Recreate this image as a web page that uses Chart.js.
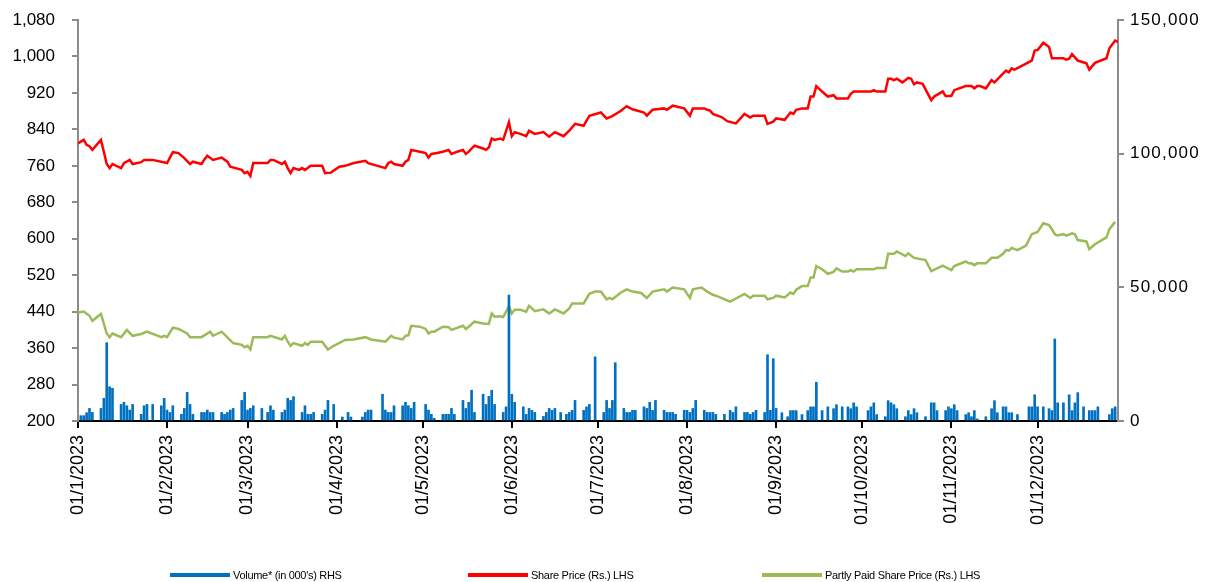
<!DOCTYPE html>
<html><head><meta charset="utf-8">
<script src="https://cdn.jsdelivr.net/npm/chart.js@4.4.0/dist/chart.umd.min.js"></script>
<style>
html,body{margin:0;padding:0;background:#fff;}
#wrap{position:relative;width:1206px;height:582px;overflow:hidden;}
#legend{position:absolute;left:0;top:568px;width:1206px;height:14px;font:11px "Liberation Sans",Arial,sans-serif;color:#000;}
.item{position:absolute;top:0;height:14px;display:flex;align-items:center;white-space:nowrap;letter-spacing:-0.3px;}
.sw{display:inline-block;width:60px;height:4px;margin-right:3px;}
</style></head><body>
<div id="wrap"><canvas id="c" width="1206" height="582"></canvas><div id="legend"></div></div>
<script>
// ---- Data (x = days since 01/1/2023) ----
const monthTickDays = [0,31,59,90,120,151,181,212,243,273,304,334];
const monthTickLabels = ['01/1/2023','01/2/2023','01/3/2023','01/4/2023','01/5/2023','01/6/2023','01/7/2023','01/8/2023','01/9/2023','01/10/2023','01/11/2023','01/12/2023'];
const leftTicks = [200,280,360,440,520,600,680,760,840,920,1000,1080];
const rightTicks = [0,50000,100000,150000];
const seriesNames = ["Volume* (in 000's) RHS", "Share Price (Rs.) LHS", "Partly Paid Share Price (Rs.) LHS"];

const priceDays = [0,2,3,4,5,8,10,11,12,15,16,18,19,22,23,26,31,33,35,37,39,40,43,44,45,47,50,52,53,57,58,59,60,61,66,67,68,71,72,73,74,75,77,78,79,81,85,86,88,91,93,96,100,101,107,108,109,110,113,114,115,116,119,121,122,123,125,127,129,130,132,134,135,136,137,138,141,142,143,144,145,147,148,150,151,152,154,156,157,159,162,164,166,169,171,173,176,178,182,184,186,189,191,193,197,198,200,204,205,207,211,213,214,218,219,220,221,224,226,229,232,234,235,239,240,242,243,246,248,249,250,252,254,255,256,257,259,261,263,264,268,269,270,276,277,278,281,282,283,284,285,287,289,290,291,292,294,297,298,301,302,304,305,309,311,312,313,314,316,318,319,323,324,325,326,329,332,333,334,336,338,339,343,344,345,346,348,351,352,354,358,359,361,362];
const priceValues = [809,817,806,803,795,817,764,755,764,755,766,773,764,768,773,773,766,790,788,777,764,769,764,774,782,773,778,769,758,751,744,747,738,766,766,773,773,764,769,755,744,755,751,755,751,760,760,744,745,758,760,766,771,766,755,766,769,764,760,769,773,795,791,788,778,786,788,791,795,786,791,795,786,791,798,804,798,795,800,820,817,820,817,856,825,834,830,825,837,830,834,824,834,825,837,852,848,870,877,864,869,881,891,884,877,870,883,886,883,892,886,870,886,886,883,881,874,867,858,853,874,866,870,870,852,857,864,861,877,874,883,886,886,912,912,935,923,912,915,908,908,918,923,923,926,923,923,951,951,948,951,943,953,951,939,943,940,904,912,923,913,913,926,935,935,930,935,935,930,948,943,969,965,974,971,981,991,1013,1014,1030,1021,996,996,993,995,1005,991,985,971,986,996,1018,1035,1032];

const partlyDays = [0,2,4,5,8,10,11,12,15,17,19,22,24,29,30,31,33,35,38,39,43,46,47,50,54,57,58,59,60,61,66,67,71,72,73,74,75,78,79,80,81,85,87,89,93,96,100,102,107,109,110,113,114,115,116,119,121,122,123,124,127,129,130,134,135,136,138,141,143,144,145,147,148,150,151,152,154,156,157,159,162,164,166,169,171,172,176,178,180,182,184,185,186,189,191,193,196,198,200,204,205,207,211,213,214,217,219,221,222,227,232,234,235,239,240,242,243,246,248,249,250,252,254,255,256,257,259,261,263,264,266,268,269,270,271,277,278,281,282,284,285,288,289,291,295,297,299,301,304,305,309,310,311,312,313,316,318,320,322,323,324,325,327,330,332,334,336,338,339,340,341,343,344,346,347,348,351,352,354,358,359,361];
const partlyValues = [438,440,431,420,435,392,384,392,384,400,387,391,396,384,387,384,405,402,392,384,384,396,387,396,371,367,362,365,357,384,384,387,379,387,374,365,371,365,371,367,374,374,357,365,378,379,384,379,374,387,383,379,387,388,409,407,402,392,396,396,407,406,400,409,402,407,418,414,413,436,429,430,428,452,436,444,444,440,453,441,445,436,445,436,447,458,458,479,484,484,467,470,467,482,489,484,481,470,484,489,484,493,489,470,489,493,484,477,475,462,479,470,475,475,467,470,475,471,482,479,488,496,496,515,515,540,533,523,527,535,528,528,531,528,533,533,536,536,567,567,572,562,568,558,553,529,535,541,531,540,550,546,546,542,546,546,558,558,567,575,574,580,575,585,610,615,634,630,621,610,607,610,607,612,610,597,594,577,588,603,621,637];

const volumeDays = [1,2,3,4,5,8,9,10,11,12,15,16,17,18,19,22,23,24,26,29,30,31,32,33,36,37,38,39,40,43,44,45,46,47,50,51,52,53,54,57,58,59,60,61,64,66,67,68,71,72,73,74,75,78,79,80,81,82,85,86,87,89,92,94,95,99,100,101,102,106,107,108,109,110,113,114,115,116,117,121,122,123,124,127,128,129,130,131,134,135,136,137,138,141,142,143,144,145,148,149,150,151,152,155,156,157,158,159,162,163,164,165,166,168,170,171,172,173,176,177,178,180,183,184,185,186,187,190,191,192,193,194,197,198,199,200,201,204,205,206,207,208,211,212,213,214,215,218,219,220,221,222,225,227,228,229,232,233,234,235,236,239,240,241,242,243,245,247,248,249,250,252,254,255,256,257,259,261,263,264,266,268,269,270,271,275,276,277,278,281,282,283,284,285,288,289,290,291,292,295,297,298,299,302,303,304,305,306,309,310,311,312,313,316,318,319,320,322,323,324,325,327,331,332,333,334,336,338,339,340,341,343,345,346,347,348,350,352,353,354,355,359,360,361];
const volumeValues = [2000,2000,3100,4700,3200,4700,8500,29300,12800,12200,6200,7000,5700,4100,6200,2500,5700,6200,6200,5700,8500,4100,3200,5700,2500,4700,10700,6200,2500,3200,3200,4100,3200,3200,3200,2500,3200,4100,4700,7700,10700,4100,4700,5700,4700,3200,5700,4100,3200,4100,8500,7700,9100,3200,5700,2500,2500,3200,2500,4100,7700,6200,1500,3200,1500,1500,3200,4100,4100,10000,4100,3200,3200,5700,5700,7000,5700,4700,7000,6200,4100,2500,1000,2500,2500,2500,4700,2500,7700,4700,7000,11500,3200,10000,6200,9200,11500,6200,3200,5300,47100,10000,7000,5300,2500,4700,4000,3200,1700,3200,4700,4000,4700,3200,2500,3200,4000,7700,4000,5300,6200,24000,3200,7700,4700,7700,21800,4700,3200,3200,4000,4000,5300,4700,7000,4000,7700,4000,3200,3200,3200,2500,4000,4000,3200,4700,7700,4000,3200,3200,3200,2500,2500,4000,3200,5300,3200,3200,2500,3200,4000,3200,24800,4000,23300,4700,3100,1600,3900,3900,3900,2400,3900,5300,5300,14500,3900,5300,4600,6100,5300,5300,4600,6800,5300,3900,5300,6800,2400,1600,7600,6800,6100,4600,1600,3900,2400,4600,3100,1600,6800,6800,3900,3900,5300,4600,6100,3900,2400,3100,1600,3900,800,1600,4600,7600,3100,5300,5300,3100,3100,2400,5300,5300,9800,5300,5300,4600,3900,30700,6800,6800,9800,3900,6800,10600,5300,3900,3900,3900,5300,2400,4600,5300];

// ---- Styles ----
const FONT = '"Liberation Sans", Arial, sans-serif';
const colors = ['#0070C0', '#FF0000', '#9BBB59'];
const legendLeft = [170, 468, 762];

const toPts = (xs, ys) => xs.map((x, i) => ({x: x, y: ys[i]}));
const fitY = w => s => { s.width = w; s.paddingTop = 0; s.paddingBottom = 0; };
// widen letter spacing of a scale's tick labels
const spaced = px => s => {
  if (s._spacedWrapped) return;
  const orig = s.drawLabels;
  s.drawLabels = function (area) {
    const ctx = this.ctx; ctx.save();
    if ('letterSpacing' in ctx) ctx.letterSpacing = px;
    orig.call(this, area); ctx.restore();
  };
  s._spacedWrapped = true;
};

new Chart(document.getElementById('c'), {
  type: 'bar',
  data: {
    datasets: [
      {type: 'bar', label: seriesNames[0], data: toPts(volumeDays, volumeValues), yAxisID: 'y1',
       backgroundColor: colors[0], borderWidth: 0, barThickness: 2, order: 0},
      {type: 'line', label: seriesNames[1], data: toPts(priceDays, priceValues), yAxisID: 'y',
       borderColor: colors[1], borderWidth: 2.5, pointRadius: 0, tension: 0, fill: false, order: 1},
      {type: 'line', label: seriesNames[2], data: toPts(partlyDays, partlyValues), yAxisID: 'y',
       borderColor: colors[2], borderWidth: 2.5, pointRadius: 0, tension: 0, fill: false, order: 2}
    ]
  },
  options: {
    responsive: false, animation: false, devicePixelRatio: 1,
    layout: {padding: {top: 20, left: 0, right: 0, bottom: 0}},
    plugins: {legend: {display: false}, tooltip: {enabled: false}},
    scales: {
      x: {
        type: 'linear', min: 0, max: 362, offset: false,
        afterBuildTicks: s => { s.ticks = monthTickDays.map(v => ({value: v})); },
        afterFit: s => { s.height = 161; s.paddingLeft = 0; s.paddingRight = 0; },
        ticks: {autoSkip: false, minRotation: 90, maxRotation: 90, padding: 7, color: '#000',
          font: {family: FONT, size: 18},
          callback: v => monthTickLabels[monthTickDays.indexOf(v)]},
        grid: {offset: false, drawOnChartArea: false, drawTicks: true, tickLength: 7, color: '#000', lineWidth: 2},
        border: {display: true, color: '#000', width: 2}
      },
      y: {
        position: 'left', min: 200, max: 1080,
        afterBuildTicks: s => { s.ticks = leftTicks.map(v => ({value: v})); },
        afterFit: fitY(78),
        ticks: {padding: 17, color: '#000', font: {family: FONT, size: 17},
          callback: v => v.toLocaleString('en-US')},
        grid: {drawOnChartArea: false, drawTicks: true, tickLength: 6, color: '#8c8c8c', lineWidth: 2},
        border: {display: true, color: '#8c8c8c', width: 2}
      },
      y1: {
        position: 'right', min: 0, max: 150000,
        afterBuildTicks: s => { s.ticks = rightTicks.map(v => ({value: v})); },
        afterFit: fitY(88),
        afterUpdate: spaced('1.2px'),
        ticks: {padding: 6, color: '#000', font: {family: FONT, size: 17},
          callback: v => v.toLocaleString('en-US')},
        grid: {drawOnChartArea: false, drawTicks: true, tickLength: 6, color: '#8c8c8c', lineWidth: 2},
        border: {display: true, color: '#8c8c8c', width: 2}
      }
    }
  }
});

// ---- Legend (real text) ----
const leg = document.getElementById('legend');
seriesNames.forEach((name, i) => {
  const it = document.createElement('div');
  it.className = 'item';
  it.style.left = legendLeft[i] + 'px';
  const sw = document.createElement('span');
  sw.className = 'sw';
  sw.style.background = colors[i];
  const tx = document.createElement('span');
  tx.textContent = name;
  it.appendChild(sw); it.appendChild(tx);
  leg.appendChild(it);
});
</script>
</body></html>
